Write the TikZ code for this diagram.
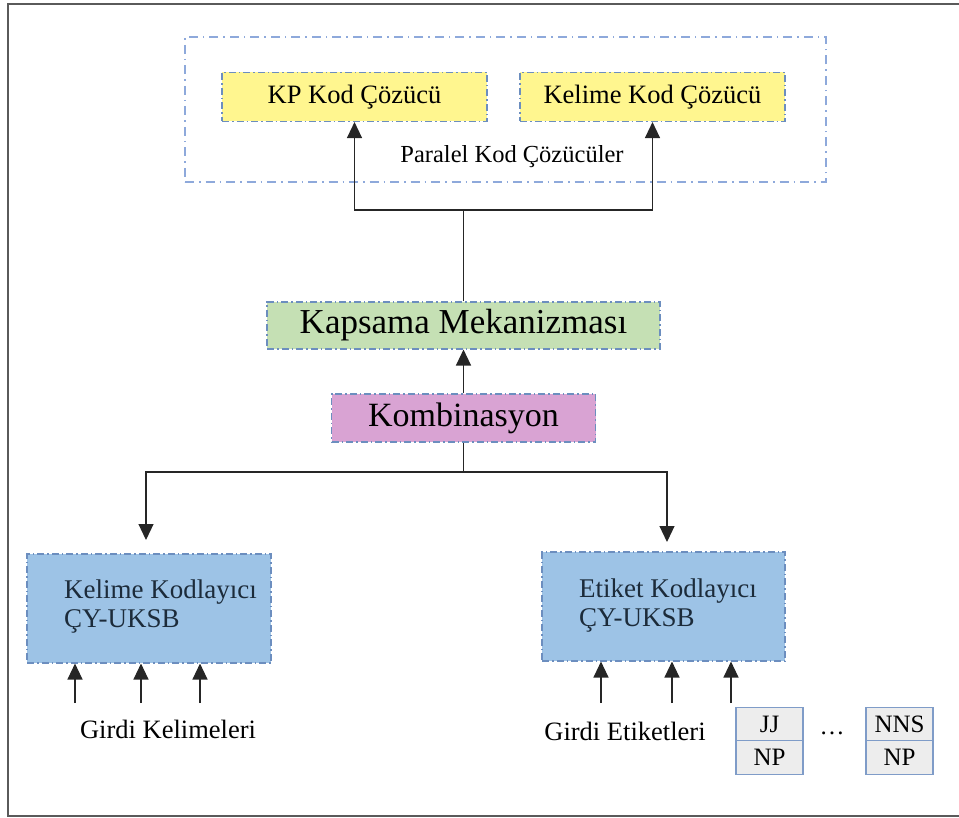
\documentclass[tikz,border=0pt]{standalone}
\usepackage{fontspec}
\setmainfont{Liberation Serif}
\usetikzlibrary{arrows.meta}

\definecolor{frameGray}{HTML}{5A5A5A}
\definecolor{boxLine}{HTML}{6C8EBF}
\definecolor{groupLine}{HTML}{8EA9DB}
\definecolor{decYellow}{HTML}{FFF68F}
\definecolor{covGreen}{HTML}{C5E0B4}
\definecolor{combPink}{HTML}{D9A3D3}
\definecolor{encBlue}{HTML}{9DC3E6}
\definecolor{cellGray}{HTML}{EDEDED}
\definecolor{cellLine}{HTML}{7F9CC8}
\definecolor{encText}{HTML}{1C2B3A}

\tikzset{
  dashdot box/.style={draw=boxLine, line width=1.1pt,
    dash pattern=on 7pt off 3pt on 1.5pt off 3pt},
  groupbox/.style={draw=groupLine, line width=1.1pt,
    dash pattern=on 9pt off 5pt on 1.5pt off 5pt},
  decbox/.style={dashdot box, fill=decYellow, minimum width=265, minimum height=49,
    inner sep=0pt, font=\fontsize{26.5}{30}\selectfont},
  midbox/.style={dashdot box, inner sep=0pt, font=\fontsize{34}{40}\selectfont},
  encbox/.style={dashdot box, fill=encBlue, minimum height=109, inner sep=0pt},
  enctext/.style={anchor=north west, inner sep=0pt, align=left, text=encText,
    font=\fontsize{27}{29}\selectfont},
  inlabel/.style={inner sep=0pt, font=\fontsize{26.5}{30}\selectfont},
  cell/.style={draw=cellLine, line width=1.1pt, fill=cellGray, minimum width=67,
    minimum height=33.5, inner sep=0pt, font=\fontsize{25}{28}\selectfont},
  link/.style={draw=black!85, line width=1.2pt},
  flow/.style={link, -{Triangle[width=15pt,length=16pt]}},
}

\begin{document}
\begin{tikzpicture}[x=1pt,y=-1pt]
\useasboundingbox (0,0) rectangle (959,818);

% outer frame
\draw[frameGray, line width=2pt] (960,4.5) -- (7.5,4.5) -- (7.5,815.5) -- (960,815.5);

% parallel decoders group
\node[groupbox, minimum width=641, minimum height=145] (decoders) at (505.5,109.5) {};
\node[decbox] (kpdec) at (354.5,97) {KP Kod Çözücü};
\node[decbox] (worddec) at (652.5,97) {Kelime Kod Çözücü};
\node[inner sep=0pt, font=\fontsize{24.5}{28}\selectfont] (grouplabel) at (512,157) {Paralel Kod Çözücüler};

% coverage and combination
\node[midbox, fill=covGreen, minimum width=393, minimum height=47,
  font=\fontsize{35}{40}\selectfont] (coverage) at (463.5,325.5) {Kapsama Mekanizması};
\node[midbox, fill=combPink, minimum width=264, minimum height=48] (combine) at (463.5,418) {Kombinasyon};

% encoders
\node[encbox, minimum width=244] (wordenc) at (149,608.5) {};
\node[enctext] (wordenctext) at (64,580) {Kelime Kodlayıcı\\ÇY-UKSB};
\node[encbox, minimum width=243] (tagenc) at (663.5,606.5) {};
\node[enctext] (tagenctext) at (579,579) {Etiket Kodlayıcı\\ÇY-UKSB};

% inputs
\node[inlabel] (wordin) at (168,729) {Girdi Kelimeleri};
\node[inlabel] (tagin) at (625,731) {Girdi Etiketleri};
\node[cell] (jj) at (769.5,724) {JJ};
\node[cell] (np1) at (769.5,757.5) {NP};
\node[cell] (nns) at (899.5,724) {NNS};
\node[cell] (np2) at (899.5,757.5) {NP};
\node[inner sep=0pt, font=\fontsize{25}{28}\selectfont] (dots) at (832,733) {…};

% connectors: coverage to decoders
\coordinate (split) at (463.5,210);
\draw[link] (coverage.north) -- (split);
\draw[flow] (split) -| (kpdec.south);
\draw[flow] (split) -| (worddec.south);
\draw[flow] (combine.north) -- (coverage.south);

% connectors: combination to encoders
\coordinate (fork) at (463.5,472);
\coordinate (wordtip) at (146,540);
\coordinate (tagtip) at (667,542);
\draw[link] (combine.south) -- (fork);
\draw[flow] (fork) -| (wordtip);
\draw[flow] (fork) -| (tagtip);

% connectors: inputs to encoders
\foreach \n/\x in {w1/75, w2/141, w3/200} {
  \coordinate (\n) at (\x,703);
  \draw[flow] (\n) -- (\n |- wordenc.south);
}
\foreach \n/\x in {t1/601, t2/672, t3/731} {
  \coordinate (\n) at (\x,703);
  \draw[flow] (\n) -- (\n |- tagenc.south);
}
\end{tikzpicture}
\end{document}
